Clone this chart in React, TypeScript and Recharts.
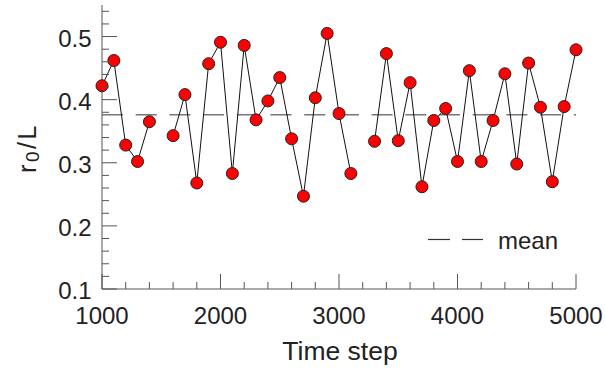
import { LineChart, Line, XAxis, YAxis, ReferenceLine, Legend } from "recharts"

const steps = [
  1000, 1100, 1200, 1300, 1400, 1500, 1600, 1700, 1800, 1900,
  2000, 2100, 2200, 2300, 2400, 2500, 2600, 2700, 2800, 2900,
  3000, 3100, 3200, 3300, 3400, 3500, 3600, 3700, 3800, 3900,
  4000, 4100, 4200, 4300, 4400, 4500, 4600, 4700, 4800, 4900, 5000,
]

const ratio = [
  0.422, 0.462, 0.328, 0.302, 0.365, null, 0.343, 0.408, 0.268, 0.457,
  0.491, 0.283, 0.486, 0.368, 0.398, 0.435, 0.338, 0.247, 0.403, 0.505,
  0.378, 0.283, null, 0.334, 0.473, 0.335, 0.427, 0.262, 0.367, 0.386,
  0.302, 0.446, 0.302, 0.367, 0.441, 0.298, 0.458, 0.388, 0.270, 0.389, 0.479,
]

const meanValue = 0.376

const xTicks = [
  1000, 1200, 1400, 1600, 1800, 2000, 2200, 2400, 2600, 2800, 3000,
  3200, 3400, 3600, 3800, 4000, 4200, 4400, 4600, 4800, 5000,
]
const xMajor = [1000, 2000, 3000, 4000, 5000]

const yTicks = [
  0.1, 0.12, 0.14, 0.16, 0.18, 0.2, 0.22, 0.24, 0.26, 0.28, 0.3,
  0.32, 0.34, 0.36, 0.38, 0.4, 0.42, 0.44, 0.46, 0.48, 0.5, 0.52, 0.54,
]
const yMajor = [0.1, 0.2, 0.3, 0.4, 0.5]

const data = steps.map((t, i) => ({ t, r: ratio[i] }))

const FONT = "'Liberation Sans', Arial, sans-serif"
const AXIS = "#555"
const TEXT = "#222"

const isMajor = (list: number[], v: number) => list.some((m) => Math.abs(m - v) < 1e-6)

const XTick = (props: any) => {
  const { x, y, payload } = props
  const major = isMajor(xMajor, payload.value)
  return (
    <g>
      <line x1={x} x2={x} y1={y} y2={y - (major ? 15 : 7)} stroke={AXIS} strokeWidth={1} />
      {major && (
        <text x={x} y={y + 35} textAnchor="middle" fontSize={24} fontFamily={FONT} fill={TEXT}>
          {payload.value}
        </text>
      )}
    </g>
  )
}

const YTick = (props: any) => {
  const { x, y, payload } = props
  const major = isMajor(yMajor, payload.value)
  return (
    <g>
      <line x1={x} x2={x + (major ? 15 : 7)} y1={y} y2={y} stroke={AXIS} strokeWidth={1} />
      {major && (
        <text x={x - 10.5} y={y + 10} textAnchor="end" fontSize={24} fontFamily={FONT} fill={TEXT}>
          {payload.value.toFixed(1)}
        </text>
      )}
    </g>
  )
}

const MeanLegend = () => (
  <svg width={160} height={32}>
    <line x1={8} x2={30} y1={14.5} y2={14.5} stroke="#333" strokeWidth={1.2} />
    <line x1={42} x2={63} y1={14.5} y2={14.5} stroke="#333" strokeWidth={1.2} />
    <text x={78} y={24} fontSize={24} fontFamily={FONT} fill={TEXT}>mean</text>
  </svg>
)

export default function App() {
  return (
    <div style={{ position: "absolute", left: 0, top: 0, background: "#fff" }}>
      <LineChart width={605} height={371} data={data} margin={{ top: 5, right: 29, left: 0, bottom: 0 }}>
        <XAxis
          dataKey="t"
          type="number"
          domain={[1000, 5000]}
          ticks={xTicks}
          interval={0}
          height={82}
          tickSize={0}
          tickMargin={0}
          tickLine={false}
          stroke={AXIS}
          tick={<XTick />}
          label={{
            content: () => (
              <text x={340} y={360} textAnchor="middle" fontSize={26.5} fontFamily={FONT} fill={TEXT}>
                Time step
              </text>
            ),
          }}
        />
        <YAxis
          type="number"
          domain={[0.1, 0.55]}
          ticks={yTicks}
          interval={0}
          width={102}
          tickSize={0}
          tickMargin={0}
          tickLine={false}
          stroke={AXIS}
          allowDataOverflow
          tick={<YTick />}
          label={{
            content: () => (
              <text
                x={27}
                y={148}
                transform="rotate(-90, 27, 148)"
                textAnchor="middle"
                dominantBaseline="central"
                fontSize={25}
                letterSpacing={2.5}
                fontFamily={FONT}
                fill={TEXT}
              >
                r<tspan dy={5} fontSize={19}>0</tspan>
                <tspan dy={-5}>/L</tspan>
              </text>
            ),
          }}
        />
        <ReferenceLine y={meanValue} stroke="#777" strokeWidth={1.5} strokeDasharray="21 12.7" />
        <Legend
          layout="horizontal"
          verticalAlign="middle"
          align="center"
          wrapperStyle={{ left: 420, top: 225, width: 160, height: 32 }}
          content={<MeanLegend />}
        />
        <Line
          type="linear"
          dataKey="r"
          name="r0/L"
          stroke="#111"
          strokeWidth={1}
          dot={{ r: 6, fill: "#ff0000", stroke: "#222", strokeWidth: 1 }}
          activeDot={false}
          isAnimationActive={false}
        />
      </LineChart>
    </div>
  )
}
